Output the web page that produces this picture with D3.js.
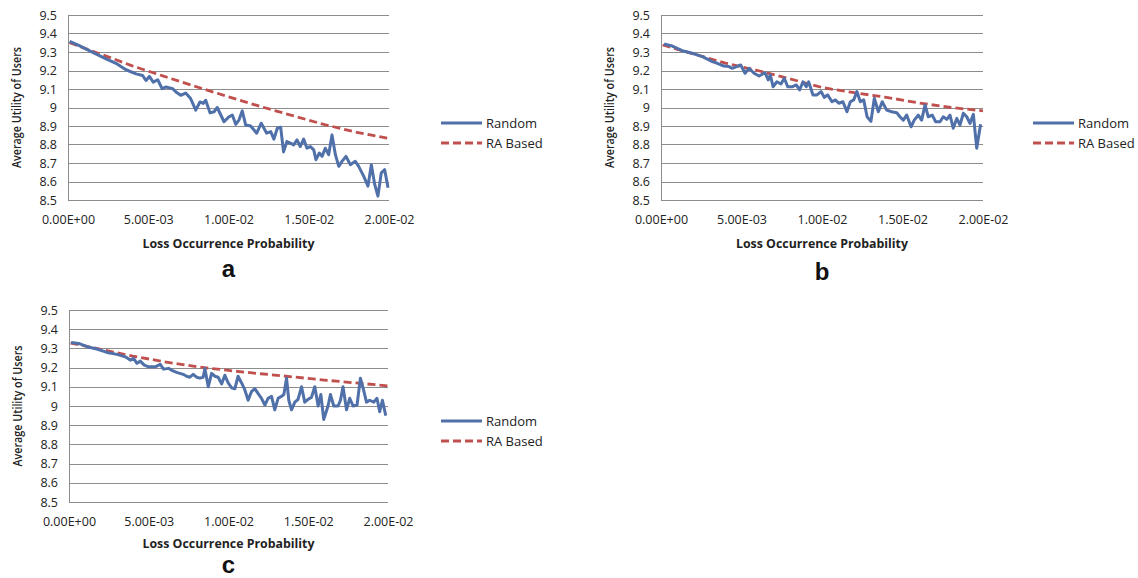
<!DOCTYPE html>
<html><head><meta charset="utf-8">
<script src="https://cdn.jsdelivr.net/npm/d3@7"></script>
<style>body{margin:0;background:#fff} svg{display:block}</style>
</head><body>
<script>
// ---------- data ----------
const xTickValues = [0, 0.005, 0.01, 0.015, 0.02];
const xTickLabels = ["0.00E+00", "5.00E-03", "1.00E-02", "1.50E-02", "2.00E-02"];
const yTickValues = [8.5, 8.6, 8.7, 8.8, 8.9, 9.0, 9.1, 9.2, 9.3, 9.4, 9.5];
const yTickLabels = ["8.5", "8.6", "8.7", "8.8", "8.9", "9", "9.1", "9.2", "9.3", "9.4", "9.5"];
const seriesNames = ["Random", "RA Based"];
const panelLetters = ["a", "b", "c"];
const xTitle = "Loss Occurrence Probability";
const yTitle = "Average Utility of Users";

// RA Based (smooth) series
const raX = [0.0001, 0.002, 0.004, 0.006, 0.008, 0.010, 0.012, 0.014, 0.016, 0.018, 0.020];
const raA = [9.35, 9.29, 9.225, 9.168, 9.112, 9.058, 9.005, 8.956, 8.907, 8.866, 8.832];
const raB = [9.338, 9.29, 9.24, 9.20, 9.155, 9.108, 9.08, 9.055, 9.025, 9.0, 8.982];
const raC = [9.328, 9.295, 9.26, 9.23, 9.205, 9.185, 9.168, 9.152, 9.135, 9.12, 9.105];

// Random series: [loss probability, utility]
const randomA = [[0.0001,9.357],[0.0007,9.334],[0.00154,9.298],[0.00237,9.263],[0.00299,9.239],[0.00361,9.204],[0.00424,9.182],[0.00465,9.173],[0.00486,9.146],[0.00507,9.168],[0.00531,9.137],[0.00559,9.15],[0.00586,9.102],[0.00611,9.111],[0.00652,9.102],[0.00673,9.084],[0.00702,9.066],[0.00733,9.078],[0.00764,9.048],[0.00796,8.986],[0.00822,9.03],[0.00843,9.022],[0.00858,9.039],[0.00885,8.971],[0.0091,8.977],[0.0093,9.0],[0.00972,8.923],[0.01003,8.95],[0.01024,8.959],[0.01045,8.909],[0.01065,8.932],[0.01086,8.982],[0.01107,8.905],[0.01138,8.9],[0.01176,8.861],[0.01204,8.915],[0.01238,8.861],[0.01263,8.87],[0.01283,8.829],[0.01304,8.888],[0.01325,8.893],[0.01343,8.76],[0.01364,8.816],[0.01385,8.807],[0.01406,8.798],[0.01427,8.825],[0.01447,8.789],[0.01468,8.829],[0.01489,8.78],[0.0151,8.789],[0.01531,8.771],[0.01545,8.718],[0.01566,8.754],[0.01583,8.736],[0.01603,8.78],[0.01624,8.745],[0.01645,8.852],[0.01666,8.745],[0.01687,8.682],[0.01707,8.709],[0.01732,8.736],[0.01759,8.691],[0.0179,8.709],[0.01811,8.682],[0.01842,8.629],[0.01869,8.575],[0.0189,8.691],[0.01911,8.584],[0.01931,8.521],[0.01952,8.647],[0.01973,8.664],[0.01994,8.566]];
const randomB = [[0.00019,9.343],[0.0007,9.332],[0.00132,9.307],[0.00194,9.293],[0.00257,9.275],[0.00319,9.248],[0.0035,9.239],[0.00391,9.224],[0.00422,9.221],[0.00443,9.212],[0.00495,9.23],[0.00522,9.185],[0.00547,9.212],[0.00578,9.185],[0.00609,9.17],[0.00646,9.188],[0.00666,9.149],[0.00679,9.176],[0.00696,9.112],[0.0072,9.139],[0.00745,9.127],[0.00766,9.158],[0.00787,9.112],[0.00814,9.112],[0.0084,9.122],[0.00861,9.095],[0.00882,9.139],[0.00902,9.112],[0.00917,9.139],[0.00944,9.068],[0.00969,9.068],[0.00994,9.086],[0.01014,9.055],[0.01035,9.068],[0.01062,9.031],[0.01083,9.041],[0.01104,9.023],[0.0113,9.031],[0.01155,8.977],[0.01176,9.031],[0.01197,9.041],[0.01217,9.086],[0.01238,9.031],[0.01259,9.041],[0.0128,8.95],[0.01304,8.925],[0.01325,9.05],[0.0135,8.977],[0.01374,9.031],[0.01402,8.986],[0.01433,8.977],[0.01464,8.972],[0.01484,8.95],[0.01505,8.932],[0.01526,8.959],[0.01553,8.896],[0.01573,8.932],[0.01598,8.959],[0.01619,8.932],[0.0164,9.014],[0.0166,8.95],[0.01685,8.959],[0.01706,8.923],[0.01733,8.923],[0.01753,8.95],[0.01775,8.936],[0.01795,8.959],[0.01815,8.888],[0.01837,8.941],[0.01857,8.905],[0.01878,8.969],[0.01899,8.95],[0.01919,8.914],[0.0194,8.963],[0.01961,8.78],[0.01985,8.91]];
const randomC = [[0.00013,9.331],[0.00061,9.326],[0.00113,9.309],[0.00175,9.297],[0.00238,9.279],[0.00301,9.269],[0.00353,9.256],[0.00384,9.239],[0.00405,9.248],[0.00426,9.222],[0.00447,9.234],[0.00472,9.213],[0.00499,9.204],[0.00541,9.204],[0.00572,9.217],[0.00593,9.192],[0.00625,9.196],[0.00645,9.185],[0.00675,9.175],[0.00695,9.17],[0.00716,9.165],[0.00737,9.155],[0.00758,9.15],[0.00779,9.165],[0.008,9.15],[0.00821,9.145],[0.00841,9.15],[0.00852,9.195],[0.00873,9.10],[0.00894,9.17],[0.00915,9.155],[0.00935,9.15],[0.00957,9.115],[0.00977,9.16],[0.00998,9.12],[0.01019,9.095],[0.0104,9.09],[0.0106,9.155],[0.01082,9.12],[0.01102,9.085],[0.01123,9.03],[0.01144,9.075],[0.01165,9.09],[0.01186,9.065],[0.01207,9.04],[0.01228,9.005],[0.01248,9.04],[0.0127,9.05],[0.0129,8.98],[0.01311,9.04],[0.01332,9.05],[0.01347,9.06],[0.01364,9.145],[0.01378,9.03],[0.01395,8.98],[0.01416,9.02],[0.01436,9.035],[0.01458,9.10],[0.01478,9.02],[0.01499,9.035],[0.0152,9.045],[0.01541,9.10],[0.01562,9.0],[0.01579,9.06],[0.01597,8.93],[0.01624,9.0],[0.01639,9.06],[0.0166,9.0],[0.01687,9.0],[0.01702,9.03],[0.01718,9.10],[0.0174,8.98],[0.0176,9.04],[0.01781,9.0],[0.01806,9.005],[0.01827,9.145],[0.01848,9.08],[0.01865,9.02],[0.01885,9.03],[0.01911,9.02],[0.01931,9.04],[0.01948,8.97],[0.01965,9.03],[0.01986,8.95]];

// ---------- layout ----------
const W = 1138, H = 578;
const BLUE = "#5070aa", RED = "#c0504d", GRID = "#8c8c8c";
const FONT = "'Open Sans', 'DejaVu Sans', sans-serif";
const panels = [
  {letter: panelLetters[0], random: randomA, ra: raA, left: 68, right: 389, top: 15, bottom: 200, legendX: 441, legendY: 123, titleY: 248, letterY: 277},
  {letter: panelLetters[1], random: randomB, ra: raB, left: 661, right: 983, top: 15, bottom: 200, legendX: 1033, legendY: 123, titleY: 248, letterY: 280},
  {letter: panelLetters[2], random: randomC, ra: raC, left: 69, right: 388, top: 310, bottom: 502, legendX: 441, legendY: 421, titleY: 548, letterY: 573}
];

const svg = d3.select("body").append("svg").attr("width", W).attr("height", H)
  .style("font-family", FONT);
svg.append("rect").attr("width", W).attr("height", H).attr("fill", "#fff");

panels.forEach(p => {
  const g = svg.append("g");
  const x = d3.scaleLinear().domain([0, 0.02]).range([p.left, p.right]);
  const y = d3.scaleLinear().domain([8.5, 9.5]).range([p.bottom, p.top]);

  // gridlines
  g.selectAll("line.grid").data(yTickValues).join("line")
    .attr("x1", p.left).attr("x2", p.right)
    .attr("y1", d => Math.round(y(d)) + 0.5).attr("y2", d => Math.round(y(d)) + 0.5)
    .attr("stroke", GRID).attr("stroke-width", 1);
  // left axis line
  g.append("line").attr("x1", p.left + 0.5).attr("x2", p.left + 0.5)
    .attr("y1", p.top).attr("y2", p.bottom + 1).attr("stroke", GRID);

  // y axis labels
  const ya = g.append("g").attr("transform", `translate(${p.left},0)`)
    .call(d3.axisLeft(y).tickValues(yTickValues).tickFormat((d, i) => yTickLabels[i]).tickSize(0).tickPadding(11));
  ya.select(".domain").remove();
  ya.selectAll("text").attr("font-size", 12.5).attr("fill", "#222").attr("font-family", FONT);

  // x axis labels
  const xa = g.append("g").attr("transform", `translate(0,${p.bottom})`)
    .call(d3.axisBottom(x).tickValues(xTickValues).tickFormat((d, i) => xTickLabels[i]).tickSize(0).tickPadding(15));
  xa.select(".domain").remove();
  xa.selectAll("text").attr("font-size", 12.5).attr("fill", "#222").attr("font-family", FONT);

  // titles
  g.append("text").attr("x", (p.left + p.right) / 2).attr("y", p.titleY)
    .attr("text-anchor", "middle").attr("font-size", 12).attr("font-weight", 700)
    .attr("fill", "#222").attr("textLength", 172).attr("lengthAdjust", "spacingAndGlyphs").text(xTitle);
  g.append("text").attr("transform", `translate(${p.left - 47},${(p.top + p.bottom) / 2}) rotate(-90)`)
    .attr("text-anchor", "middle").attr("font-size", 12).attr("font-weight", 600)
    .attr("fill", "#222").attr("textLength", 121).attr("lengthAdjust", "spacingAndGlyphs").text(yTitle);
  g.append("text").attr("x", (p.left + p.right) / 2).attr("y", p.letterY)
    .attr("text-anchor", "middle").attr("font-size", 24).attr("font-weight", 700)
    .attr("font-family", "'Liberation Sans', Arial, sans-serif").attr("fill", "#111").text(p.letter);

  // series
  const line = d3.line().x(d => x(d[0])).y(d => y(d[1]));
  g.append("path").datum(raX.map((v, i) => [v, p.ra[i]])).attr("d", line)
    .attr("fill", "none").attr("stroke", RED).attr("stroke-width", 2.8).attr("stroke-dasharray", "8,4");
  g.append("path").datum(p.random).attr("d", line)
    .attr("fill", "none").attr("stroke", BLUE).attr("stroke-width", 3).attr("stroke-linejoin", "round");

  // legend
  const lg = g.append("g");
  [0, 1].forEach(i => {
    const ly = p.legendY + i * 20;
    lg.append("line").attr("x1", p.legendX).attr("x2", p.legendX + 41).attr("y1", ly).attr("y2", ly)
      .attr("stroke", i === 0 ? BLUE : RED).attr("stroke-width", i === 0 ? 3 : 2.8)
      .attr("stroke-dasharray", i === 0 ? null : "8,4");
    lg.append("text").attr("x", p.legendX + 45).attr("y", ly).attr("dy", "0.35em")
      .attr("font-size", 13).attr("fill", "#222").text(seriesNames[i]);
  });
});
</script>
</body></html>
